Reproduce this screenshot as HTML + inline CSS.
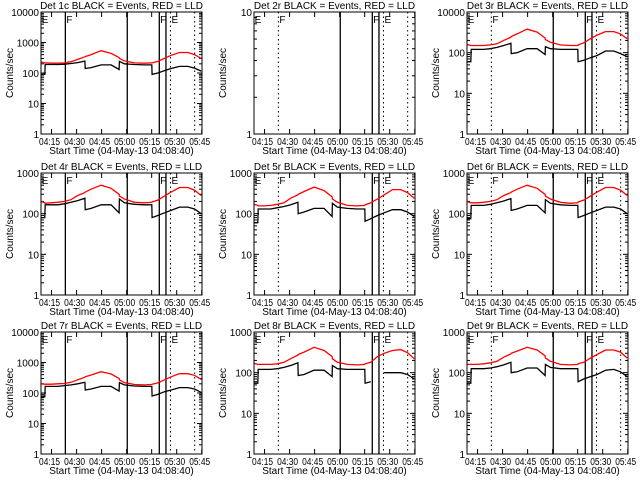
<!DOCTYPE html>
<html><head><meta charset="utf-8"><style>
body{margin:0;background:#fff;width:640px;height:480px;overflow:hidden}
svg{display:block}
text{font-family:"Liberation Sans",sans-serif;font-size:10px;fill:#000}
</style></head><body>
<svg id="c" width="640" height="480" viewBox="0 0 640 480" xmlns="http://www.w3.org/2000/svg"></svg>
<script>
const times=[0,2.3,2.5,6,10,14,18,22,26.3,26.5,30,36,42,46.8,47,50,56,62,66.4,66.6,70,74,78,83,88,92,96];
const detNames=["1c","2r","3r","4r","5r","6r","7r","8r","9r"];
const decadesList=[4,1,3,3,3,3,4,3,3];
const topLabels=[["1","10","100","1000","10000"],["1","10"],["1","10","100","10000"],["1","10","100","1000"],["1","10","100","1000"],["1","10","100","1000"],["1","10","100","1000","10000"],["1","10","100","1000"],["1","10","100","1000"]];
const black1=[90,90,190,190,190,195,205,220,245,140,150,185,185,130,240,200,190,185,185,90,100,120,140,165,165,145,115];
const red1=[230,215,215,210,210,215,235,280,340,345,400,540,440,320,300,250,215,210,215,215,240,300,380,470,470,400,300];
const black3=[60,60,120,120,120,125,135,150,170,95,100,125,125,90,140,125,120,120,120,60,65,75,85,110,110,95,80];
const red3=[160,150,150,150,150,155,165,200,240,250,290,380,320,230,210,180,155,150,150,155,175,220,270,330,330,290,220];
const black4=[80,80,165,165,165,175,190,210,240,125,135,165,165,105,230,185,170,165,165,80,90,105,120,145,145,130,100];
const red4=[200,185,180,185,190,200,220,280,330,340,400,500,420,300,270,230,190,185,190,195,215,270,340,440,440,380,280];
const black5=[60,60,130,130,130,140,150,165,190,100,110,135,135,85,180,145,135,130,130,65,75,90,105,125,125,110,85];
const red5=[170,160,155,155,160,170,185,240,290,300,350,450,370,260,230,190,160,155,160,165,185,230,290,390,390,330,240];
const black6=[75,75,160,160,160,170,185,205,235,120,130,160,160,105,220,180,165,160,160,80,90,105,120,145,145,130,100];
const red6=[200,185,185,185,190,200,220,280,330,340,400,500,420,300,270,230,190,180,185,195,215,270,340,440,440,380,280];
const black7=[75,75,165,165,165,175,185,200,225,125,135,165,165,115,220,185,170,165,165,80,90,110,125,150,150,135,105];
const red7=[200,195,195,195,200,205,225,270,330,340,390,500,420,300,270,220,190,185,190,195,215,270,340,430,430,380,280];
const black8=[55,55,120,120,120,125,135,150,175,85,90,115,115,80,150,125,120,120,120,55,60,null,100,100,100,90,70];
const red8=[170,160,160,160,160,165,180,220,270,280,320,420,350,250,220,180,160,155,160,165,180,250,300,350,370,310,220];
const black9=[55,55,125,125,125,130,140,155,180,100,105,130,130,85,160,135,125,125,125,60,70,80,90,115,120,105,80];
const red9=[160,160,160,160,165,175,190,240,290,300,340,420,360,260,230,190,160,155,160,165,180,230,280,360,360,320,230];
const blackSeries=[black1,null,black3,black4,black5,black6,black7,black8,black9];
const redSeries=[red1,null,red3,red4,red5,red6,red7,red8,red9];
const tickTimes=[6.33,21.33,36.33,51.33,66.33,81.33,96.33];
const tickLabels=["04:15","04:30","04:45","05:00","05:15","05:30","05:45"];
const markerTimes=[14.6,51.7,70.9,74.9,77.6,92.1];
const markerDotted=[false,false,false,false,true,true];
const flagTimes=[0.4,15.2,71.4,78.2];
const flagLetters=["E","F","F","E"];

const svg=document.getElementById('c');
const NS="http://www.w3.org/2000/svg";
function mk(tag,attrs,parent){const e=document.createElementNS(NS,tag);for(const k in attrs)e.setAttribute(k,attrs[k]);(parent||svg).appendChild(e);return e;}
const colX=[41,254,467],rowY=[12,173,332],W=161,H=122,TMAX=96.5;

for(let p=0;p<9;p++){
  const x0=colX[p%3],y0=rowY[Math.floor(p/3)],dec=decadesList[p];
  const g=mk('g',{});
  
  
  const xs=t=>x0+t/TMAX*W;
  const ys=v=>y0+H-Math.log10(v)/dec*H;
  const t1=mk('text',{x:x0+W/2,y:y0-3,'text-anchor':'middle'},g);
  t1.textContent='Det '+detNames[p]+' BLACK = Events, RED = LLD';
  
  
  for(let d=0;d<=dec;d++){
    const y=ys(Math.pow(10,d));
    mk('line',{x1:x0,x2:x0+5,y1:y,y2:y,stroke:'#000'},g);
    mk('line',{x1:x0+W-5,x2:x0+W,y1:y,y2:y,stroke:'#000'},g);
    const lb=mk('text',{x:x0-2,y:y+4,'text-anchor':'end','font-size':'9'},g);
    lb.textContent=topLabels[p][d];
    
    
    if(d<dec)for(let m=2;m<=9;m++){const ym=ys(m*Math.pow(10,d));
      mk('line',{x1:x0,x2:x0+3,y1:ym,y2:ym,stroke:'#000'},g);
      mk('line',{x1:x0+W-3,x2:x0+W,y1:ym,y2:ym,stroke:'#000'},g);}
  }
  for(let i=0;i<tickTimes.length;i++){
    const x=xs(tickTimes[i]);
    mk('line',{x1:x,x2:x,y1:y0+H,y2:y0+H-5,stroke:'#000'},g);
    mk('line',{x1:x,x2:x,y1:y0,y2:y0+5,stroke:'#000'},g);
    const lb=mk('text',{x:x-2,y:y0+H+11,'text-anchor':'middle','font-size':'8','textLength':'21','lengthAdjust':'spacingAndGlyphs'},g);
    lb.textContent=tickLabels[i];
    
    
  }
  const xt=mk('text',{x:x0+W/2,y:y0+H+20,'text-anchor':'middle','font-size':'9.5'},g);
  xt.textContent='Start Time (04-May-13 04:08:40)';
  
  
  const yt=mk('text',{x:0,y:0,'text-anchor':'middle','font-size':'8.5',transform:`translate(${x0-28},${y0+H/2}) rotate(-90)`},g);
  yt.textContent='Counts/sec';
  
  
  for(let i=0;i<markerTimes.length;i++){
    const x=xs(markerTimes[i]);const dotted=markerDotted[i]||(i==0&&p%3!=0);
    const l=mk('line',{x1:x,x2:x,y1:y0,y2:y0+H,stroke:'#000','stroke-width':dotted?1:1.3,'stroke-dasharray':dotted?'1.5,3':'none'},g);
    
    
  }
  for(let i=0;i<flagTimes.length;i++){
    const f=mk('text',{x:xs(flagTimes[i]),y:y0+11,'font-size':'13','font-weight':'300'},g);
    f.textContent=flagLetters[i];
    
    
  }
  const draw=(arr,col,name)=>{
    if(!arr)return;let d='',pen=false;
    for(let i=0;i<times.length;i++){
      if(arr[i]==null){pen=false;continue;}
      d+=(pen?'L':'M')+xs(times[i]).toFixed(1)+' '+ys(arr[i]).toFixed(1)+' ';pen=true;}
    const path=mk('path',{d:d,fill:'none',stroke:col,'stroke-width':1.3},g);
    
    
  };
  draw(redSeries[p],'#f00','lld-series');
  draw(blackSeries[p],'#000','events-series');
  const box=mk('rect',{x:x0,y:y0,width:W,height:H,fill:'none',stroke:'#000'},g);
  
  
}
</script>
</body></html>
